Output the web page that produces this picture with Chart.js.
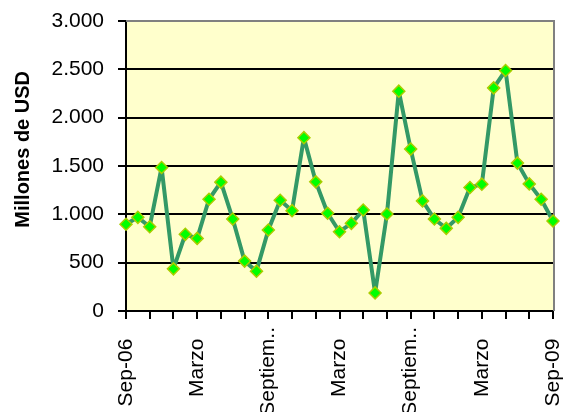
<!DOCTYPE html>
<html>
<head>
<meta charset="utf-8">
<script src="https://cdn.jsdelivr.net/npm/chart.js@4"></script>
<style>
  html, body { margin: 0; padding: 0; background: #fff; }
  #wrap { width: 568px; height: 412px; }
</style>
</head>
<body>
<div id="wrap"><canvas id="myChart" width="568" height="412"></canvas></div>
<script>
// monthly, Sep-06 .. Sep-09
const months = [
  "Sep-06", "Oct-06", "Nov-06", "Dic-06", "Ene-07", "Feb-07", "Mar-07", "Abr-07", "May-07", "Jun-07",
  "Jul-07", "Ago-07", "Sep-07", "Oct-07", "Nov-07", "Dic-07", "Ene-08", "Feb-08", "Mar-08", "Abr-08",
  "May-08", "Jun-08", "Jul-08", "Ago-08", "Sep-08", "Oct-08", "Nov-08", "Dic-08", "Ene-09", "Feb-09",
  "Mar-09", "Abr-09", "May-09", "Jun-09", "Jul-09", "Ago-09", "Sep-09",
];
const values = [
  897, 969, 872, 1485, 436, 793, 751, 1156, 1333, 952,
  516, 412, 838, 1146, 1038, 1793, 1336, 1011, 820, 907,
  1045, 187, 1004, 2274, 1675, 1139, 952, 855, 969, 1277,
  1312, 2308, 2488, 1530, 1315, 1156, 931,
];
// shown label for every 6th month
const tickLabels = { 0: "Sep-06", 6: "Marzo", 12: "Septiem..", 18: "Marzo", 24: "Septiem..", 30: "Marzo", 36: "Sep-09" };
const yTicks = [0, 500, 1000, 1500, 2000, 2500, 3000];

const FONT = "'Liberation Sans', Arial, sans-serif";

function fmt(v) {
  return String(v).replace(/\B(?=(\d{3})+(?!\d))/g, ".");
}

// the cut "Septiem.." labels sit a bit closer to the axis than the others
function xLabel(i) {
  const t = tickLabels[i];
  if (!t) return "";
  return t.endsWith("..") ? t : t + "  ";
}

const plotBg = {
  id: "plotBg",
  beforeDraw(chart) {
    const { ctx, chartArea: a } = chart;
    ctx.save();
    ctx.fillStyle = "#FFFFCC";
    ctx.fillRect(a.left, a.top, a.right - a.left, a.bottom - a.top);
    ctx.restore();
  },
  beforeDatasetsDraw(chart) {
    // grey frame on top / right
    const { ctx, chartArea: a } = chart;
    ctx.save();
    ctx.strokeStyle = "#808080";
    ctx.lineWidth = 2;
    ctx.beginPath();
    ctx.moveTo(a.left, a.top);
    ctx.lineTo(a.right + 1, a.top);
    ctx.lineTo(a.right + 1, a.bottom);
    ctx.stroke();
    ctx.restore();
  },
};

const ctx = document.getElementById("myChart").getContext("2d");

const myChart = new Chart(ctx, {
  type: "line",
  data: {
    labels: months,
    datasets: [
      {
        data: values,
        borderColor: "#339966",
        borderWidth: 4,
        borderJoinStyle: "round",
        tension: 0,
        pointStyle: "rectRot",
        pointRadius: 6,
        pointBorderWidth: 1.5,
        pointBackgroundColor: "#00FF00",
        pointBorderColor: "#AACC00",
      },
    ],
  },
  options: {
    responsive: false,
    animation: false,
    layout: { padding: { top: 21, right: 15, left: 0, bottom: 0 } },
    plugins: { legend: { display: false }, tooltip: { enabled: false } },
    scales: {
      x: {
        ticks: {
          autoSkip: false,
          maxRotation: 90,
          minRotation: 90,
          padding: 8,
          color: "#000",
          font: { family: FONT, size: 21 },
          callback: (v, i) => xLabel(i),
        },
        grid: {
          drawOnChartArea: false,
          tickLength: 8,
          lineWidth: 2,
          color: (c) => (c.index % 2 === 0 ? "#000" : "rgba(0,0,0,0)"),
        },
        border: { color: "#000", width: 2 },
        afterFit: (s) => {
          s.height = 101;
          s.paddingLeft = 0;
          s.paddingRight = 0;
        },
      },
      y: {
        min: 0,
        max: 3000,
        afterBuildTicks: (s) => { s.ticks = yTicks.map((v) => ({ value: v })); },
        ticks: {
          padding: 14,
          color: "#000",
          font: { family: FONT, size: 21 },
          callback: (v) => fmt(v),
        },
        grid: {
          tickLength: 8,
          lineWidth: 2,
          color: (c) => (c.tick && c.tick.value === 3000 ? "#808080" : "#000"),
          tickColor: "#000",
        },
        border: { color: "#000", width: 2 },
        title: {
          display: true,
          text: "      Millones de USD",
          color: "#000",
          font: { family: FONT, size: 20, weight: "bold" },
          padding: { top: 11, bottom: 0 },
        },
        afterFit: (s) => {
          s.width = 126;
          s.paddingTop = 0;
          s.paddingBottom = 0;
        },
      },
    },
  },
  plugins: [plotBg],
});
</script>
</body>
</html>
